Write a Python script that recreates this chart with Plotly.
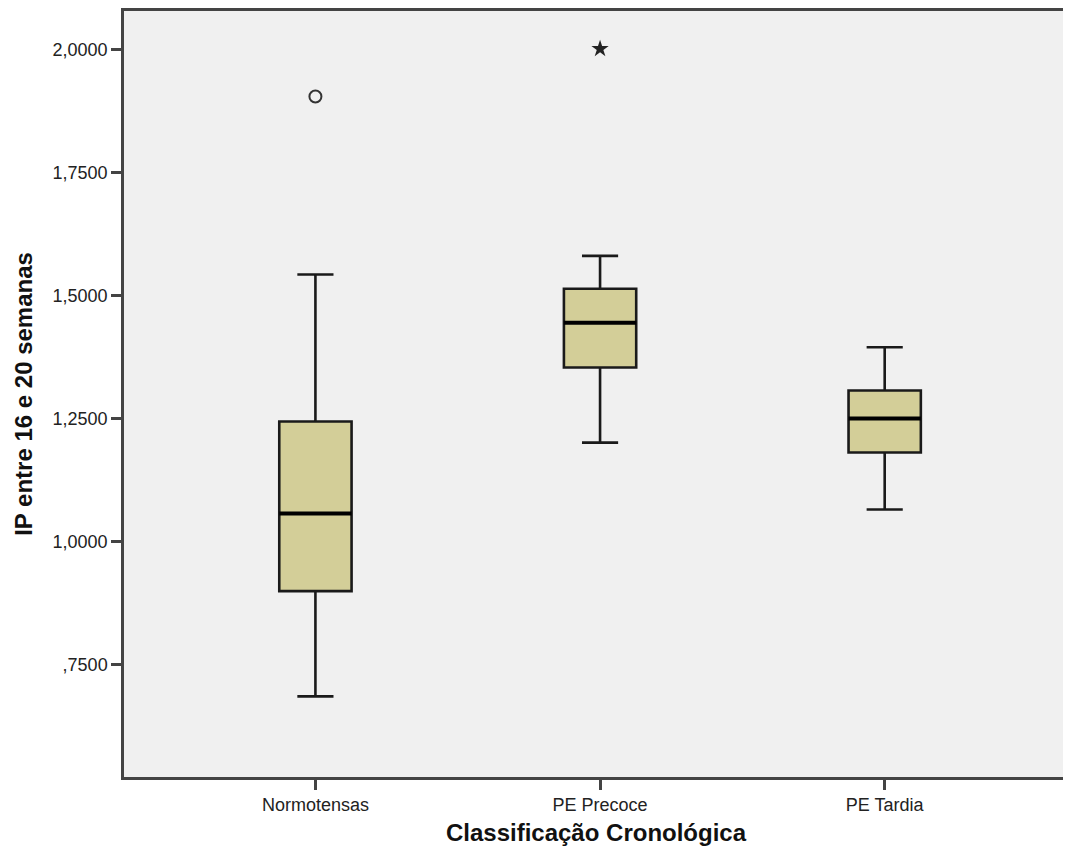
import plotly.graph_objects as go

categories = ["Normotensas", "PE Precoce", "PE Tardia"]
lower_whisker = [0.685, 1.201, 1.065]
q1 = [0.899, 1.354, 1.181]
median = [1.057, 1.445, 1.250]
q3 = [1.244, 1.514, 1.307]
upper_whisker = [1.543, 1.581, 1.395]
outlier_cat = [0]
outlier_val = [1.905]
extreme_cat = [1]
extreme_val = [2.002]
ytick_vals = [0.75, 1.0, 1.25, 1.5, 1.75, 2.0]
ytick_text = [",7500", "1,0000", "1,2500", "1,5000", "1,7500", "2,0000"]

box_w = 0.254
fill = "#d3ce98"
FONT = "Liberation Sans, Arial, sans-serif"

fig = go.Figure()
positions = list(range(len(categories)))
fig.add_trace(go.Box(
    x=positions, q1=q1, median=median, q3=q3,
    lowerfence=lower_whisker, upperfence=upper_whisker,
    width=box_w, whiskerwidth=0.5,
    fillcolor=fill, line=dict(color="#1a1a1a", width=2.6),
    boxpoints=False, showlegend=False, hoverinfo="skip",
))
# thick median lines
for i, m in enumerate(median):
    fig.add_trace(go.Scatter(
        x=[i - box_w / 2, i + box_w / 2], y=[m, m], mode="lines",
        line=dict(color="black", width=4), showlegend=False, hoverinfo="skip"))
fig.add_trace(go.Scatter(
    x=outlier_cat, y=outlier_val, mode="markers",
    marker=dict(symbol="circle-open", size=12, color="#333", line=dict(width=2)),
    showlegend=False))
fig.add_trace(go.Scatter(
    x=extreme_cat, y=extreme_val, mode="markers",
    marker=dict(symbol="star", size=13, color="#222"),
    showlegend=False))

fig.update_layout(
    width=1063, height=845,
    margin=dict(l=116, r=1, t=0, b=76),
    paper_bgcolor="white", plot_bgcolor="#f0f0f0",
    font=dict(family=FONT, size=18, color="#333"),
)
fig.update_xaxes(
    range=[-0.6725, 2.644], tickmode="array", tickvals=positions, ticktext=categories,
    showgrid=False, zeroline=False,
    showline=True, linecolor="#444", linewidth=2.5, mirror=True,
    ticks="outside", ticklen=10, tickwidth=2.5, tickcolor="#444",
    tickfont=dict(size=18, color="#222"),
    title=dict(text="Classificação Cronológica", standoff=10,
               font=dict(size=24, color="#111", family=FONT, weight="bold")),
)
fig.update_yaxes(
    range=[0.521, 2.079], tickmode="array", tickvals=ytick_vals, ticktext=ytick_text,
    showgrid=False, zeroline=False,
    showline=True, linecolor="#444", linewidth=2.5, mirror=True,
    ticks="outside", ticklen=10, tickwidth=2.5, tickcolor="#444",
    tickfont=dict(size=18, color="#222"),
    title=dict(text="IP entre 16 e 20 semanas", standoff=14,
               font=dict(size=24, color="#111", family=FONT, weight="bold")),
)

fig.write_html("out.html")
